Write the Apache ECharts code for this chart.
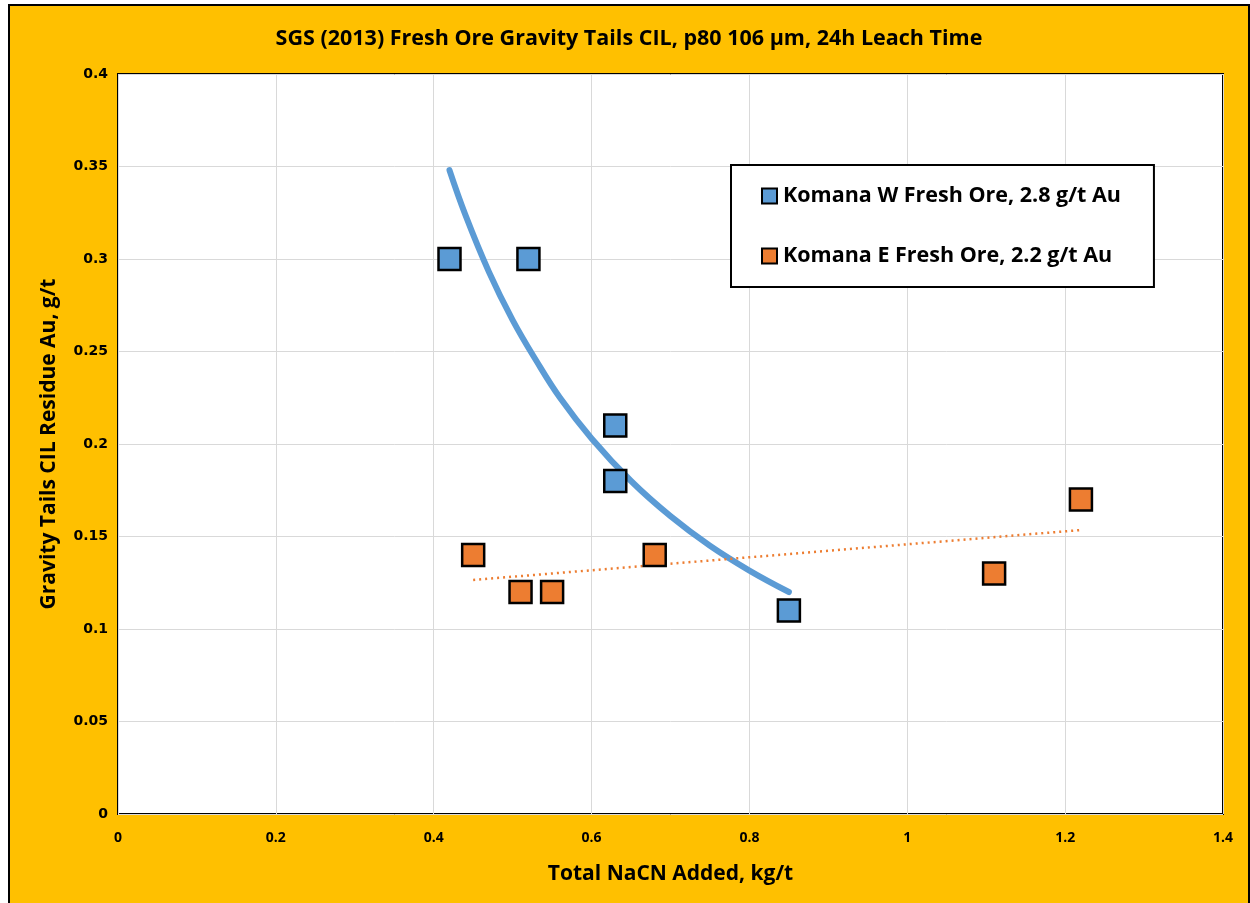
<!DOCTYPE html>
<html><head><meta charset="utf-8">
<script src="https://cdn.jsdelivr.net/npm/echarts@6/dist/echarts.min.js"></script>
<style>
html,body{margin:0;padding:0;background:#fff;}
#c{position:absolute;left:8px;top:4px;width:1238px;height:899px;border-left:2px solid #000;border-top:2px solid #000;border-right:2px solid #000;background:#FFC000;}
</style></head><body>
<div id="c"></div>
<script>
const titleText = 'SGS (2013) Fresh Ore Gravity Tails CIL, p80 106 µm, 24h Leach Time';
const xName = 'Total NaCN Added, kg/t';
const yName = 'Gravity Tails CIL Residue Au, g/t';
const westName = 'Komana W Fresh Ore, 2.8 g/t Au';
const eastName = 'Komana E Fresh Ore, 2.2 g/t Au';
const westX = [0.42, 0.52, 0.63, 0.63, 0.85];
const westY = [0.30, 0.30, 0.21, 0.18, 0.11];
const eastX = [0.45, 0.51, 0.55, 0.68, 1.11, 1.22];
const eastY = [0.14, 0.12, 0.12, 0.14, 0.13, 0.17];
// trendline points
const westTrendX = [0.42, 0.44, 0.47, 0.50, 0.53, 0.56, 0.60, 0.65, 0.70, 0.75, 0.80, 0.85];
const westTrendY = [0.348, 0.324, 0.293, 0.267, 0.245, 0.225, 0.203, 0.180, 0.161, 0.145, 0.1316, 0.120];
const eastTrendX = [0.45, 1.22];
const eastTrendY = [0.1265, 0.1535];

const zip = (a, b) => a.map((v, i) => [v, b[i]]);
const chart = echarts.init(document.getElementById('c'), null, {renderer: 'canvas'});
const nameStyle = {fontFamily: 'Open Sans', fontSize: 21, fontWeight: 'bold', color: '#000'};
chart.setOption({
  animation: false,
  backgroundColor: '#FFC000',
  title: {text: titleText, left: 'center', top: 17,
    textStyle: {fontFamily: 'Open Sans', fontSize: 21.5, fontWeight: 'bold', color: '#000'}},
  grid: {left: 108, right: 25, top: 68, bottom: 91, show: true, backgroundColor: '#fff',
    borderColor: '#000', borderWidth: 2},
  legend: {orient: 'vertical', left: 721, top: 159, itemWidth: 15, itemHeight: 15, itemGap: 38,
    backgroundColor: '#fff', borderColor: '#000', borderWidth: 2,
    padding: [20, 33, 20, 30],
    data: [{name: westName, icon: 'rect'}, {name: eastName, icon: 'rect'}],
    textStyle: {fontFamily: 'Open Sans', fontSize: 21.5, fontWeight: 'bold', color: '#000', padding: [0, 0, 0, 1]}},
  xAxis: {type: 'value', min: 0, max: 1.4, interval: 0.2,
    name: xName, nameLocation: 'middle', nameGap: 50, nameTextStyle: nameStyle,
    axisLine: {show: false}, axisTick: {show: false},
    axisLabel: {margin: 17, fontFamily: 'Open Sans', fontSize: 14, fontWeight: 'bold', color: '#000'},
    splitLine: {lineStyle: {color: '#D9D9D9', width: 1}}},
  yAxis: {type: 'value', min: 0, max: 0.4, interval: 0.05,
    name: yName, nameLocation: 'middle', nameGap: 58, nameTextStyle: nameStyle,
    axisLine: {show: false}, axisTick: {show: false},
    axisLabel: {margin: 10, fontFamily: 'DejaVu Sans', fontSize: 14, fontWeight: 'bold', color: '#000'},
    splitLine: {lineStyle: {color: '#D9D9D9', width: 1}}},
  series: [
    {name: westName + ' trend', type: 'line', data: zip(westTrendX, westTrendY), smooth: 0.4,
      showSymbol: false, lineStyle: {color: '#5B9BD5', width: 6, cap: 'round'}, z: 2, silent: true},
    {name: eastName + ' trend', type: 'line', data: zip(eastTrendX, eastTrendY),
      showSymbol: false, lineStyle: {color: '#ED7D31', width: 2.5, type: [2, 4]}, z: 2, silent: true},
    {name: westName, type: 'scatter', data: zip(westX, westY), symbol: 'rect', symbolSize: 22,
      itemStyle: {color: '#5B9BD5', borderColor: '#000', borderWidth: 2.5, opacity: 1}, z: 3},
    {name: eastName, type: 'scatter', data: zip(eastX, eastY), symbol: 'rect', symbolSize: 22,
      itemStyle: {color: '#ED7D31', borderColor: '#000', borderWidth: 2.5, opacity: 1}, z: 3}
  ]
});
</script>
</body></html>
